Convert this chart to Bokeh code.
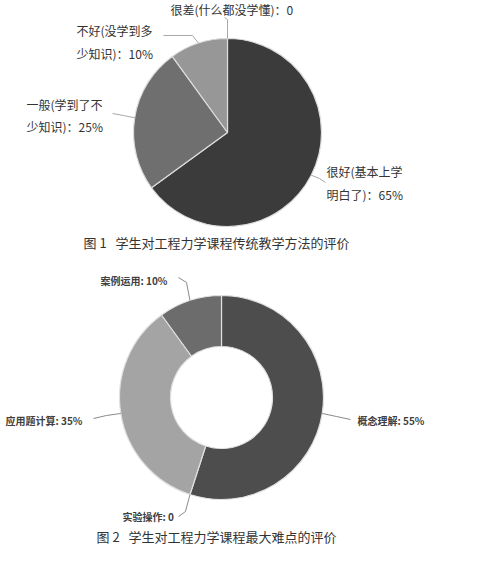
import numpy as np
from bokeh.plotting import figure
from bokeh.models import Range1d, ColumnDataSource
from bokeh.embed import file_html
from bokeh.resources import INLINE
from bokeh.core.properties import value

# ---------------- data ----------------
cats1 = ["很好(基本上学明白了)", "一般(学到了不少知识)", "不好(没学到多少知识)", "很差(什么都没学懂)"]
vals1 = [65, 25, 10, 0]
caption1 = "图 1\u00a0\u00a0\u00a0学生对工程力学课程传统教学方法的评价"

cats2 = ["概念理解", "实验操作", "应用题计算", "案例运用"]
vals2 = [55, 0, 35, 10]
caption2 = "图 2\u00a0\u00a0\u00a0学生对工程力学课程最大难点的评价"

# ---------------- layout / style ----------------
W, H = 475, 546
XR = (0, 475)
YR = (0, 546)
YS = (YR[1] - YR[0]) / H  # data units per screen px (vertical)


def Y(img_y):
    return 549 - img_y


FONT = "Noto Sans CJK SC"

pie1 = dict(cx=227, cy=135, r=94, colors=["#3b3b3b", "#6f6f6f", "#979797", "#c8c8c8"],
            wrap=[7, 7, 7, None],
            label_pos=[(326, 174), (26, 107), (76, 33), (170, 12)],
            line_gap=[23, 22, 23, 0],
            elbow=[(319, 181), (123, 118), (192, 38), (227, 22)],
            end=[(325, 185), (112, 116), (163, 38), (224, 20)])

pie2 = dict(cx=221, cy=400, r_in=51, r_out=102,
            colors=["#4d4d4d", "#888888", "#a4a4a4", "#6c6c6c"],
            label_pos=[(357, 423), (122, 519), (5, 423), (100, 283)],
            elbow=[(336, 419), (185, 514), (106, 418), (186, 285)],
            end=[(350, 422), (178, 519), (93, 421), (178, 280)])

p = figure(width=W, height=H, x_range=Range1d(*XR), y_range=Range1d(*YR),
           output_backend="svg", toolbar_location=None,
           x_axis_location=None, y_axis_location=None, min_border=0)
p.grid.visible = False
p.outline_line_color = None
p.background_fill_color = "white"
p.border_fill_color = "white"


def angles(vals):
    v = np.array(vals, dtype=float)
    cum = np.concatenate([[0], np.cumsum(v)]) / v.sum()
    s, e = cum[:-1], cum[1:]
    start = np.pi / 2 - 2 * np.pi * e
    end = np.pi / 2 - 2 * np.pi * s
    mid = (s + e) / 2
    return start, end, mid


def edge_point(cx, cy, r, m):
    a = 2 * np.pi * m
    return cx + r * np.sin(a), Y(cy) + r * np.cos(a) * YS


# ---------- chart 1: pie ----------
s1, e1, m1 = angles(vals1)
nz = [i for i, v in enumerate(vals1) if v > 0]
src1 = ColumnDataSource(dict(x=[pie1["cx"]] * len(nz), y=[Y(pie1["cy"])] * len(nz),
                             start=[s1[i] for i in nz], end=[e1[i] for i in nz],
                             color=[pie1["colors"][i] for i in nz]))
p.wedge(x="x", y="y", radius=pie1["r"], radius_units="screen", start_angle="start",
        end_angle="end", fill_color="color", line_color="#dcdcdc", line_width=1.2, source=src1)

xs, ys = [], []
for i in range(len(vals1)):
    ex, ey = edge_point(pie1["cx"], pie1["cy"], pie1["r"], m1[i])
    bx, by = pie1["elbow"][i]
    tx, ty = pie1["end"][i]
    xs.append([ex, bx, tx])
    ys.append([ey, Y(by), Y(ty)])
p.multi_line(xs, ys, line_color="#a8a8a8", line_width=1)

tx_, ty_, tt_ = [], [], []
for i, (c, v) in enumerate(zip(cats1, vals1)):
    full = f"{c}：{v}%" if v else f"{c}：0"
    w = pie1["wrap"][i]
    lines = [full] if w is None else [full[:w], full[w:]]
    lx, ly = pie1["label_pos"][i]
    for k, ln in enumerate(lines):
        tx_.append(lx)
        ty_.append(Y(ly + k * pie1["line_gap"][i]))
        tt_.append(ln)
p.text(x=tx_, y=ty_, text=tt_, text_font=value(FONT), text_font_size="12px",
       text_color="#333333", text_baseline="middle", text_align="left")

p.text(x=[216], y=[Y(245)], text=[caption1], text_font=value(FONT), text_font_size="13px",
       text_color="#333333", text_baseline="middle", text_align="center")

# ---------- chart 2: donut ----------
s2, e2, m2 = angles(vals2)
nz2 = [i for i, v in enumerate(vals2) if v > 0]
src2 = ColumnDataSource(dict(x=[pie2["cx"]] * len(nz2), y=[Y(pie2["cy"])] * len(nz2),
                             start=[s2[i] for i in nz2], end=[e2[i] for i in nz2],
                             color=[pie2["colors"][i] for i in nz2]))
p.annular_wedge(x="x", y="y", inner_radius=pie2["r_in"], outer_radius=pie2["r_out"],
                inner_radius_units="screen", outer_radius_units="screen",
                start_angle="start", end_angle="end", fill_color="color",
                line_color="#e0e0e0", line_width=1.2, source=src2)

xs2, ys2 = [], []
for i in range(len(vals2)):
    ex, ey = edge_point(pie2["cx"], pie2["cy"], pie2["r_out"], m2[i])
    bx, by = pie2["elbow"][i]
    tx, ty = pie2["end"][i]
    xs2.append([ex, bx, tx])
    ys2.append([ey, Y(by), Y(ty)])
p.multi_line(xs2, ys2, line_color="#8a8a8a", line_width=1)

lx2 = [pie2["label_pos"][i][0] for i in range(len(cats2))]
ly2 = [Y(pie2["label_pos"][i][1]) for i in range(len(cats2))]
lt2 = [f"{c}: {v}%" if v else f"{c}: 0" for c, v in zip(cats2, vals2)]
p.text(x=lx2, y=ly2, text=lt2, text_font=value(FONT), text_font_size="10px",
       text_font_style="bold", text_color="#404040", text_baseline="middle", text_align="left")

p.text(x=[216], y=[Y(539)], text=[caption2], text_font=value(FONT), text_font_size="13px",
       text_color="#333333", text_baseline="middle", text_align="center")

open("out.html", "w").write(file_html(p, INLINE))
